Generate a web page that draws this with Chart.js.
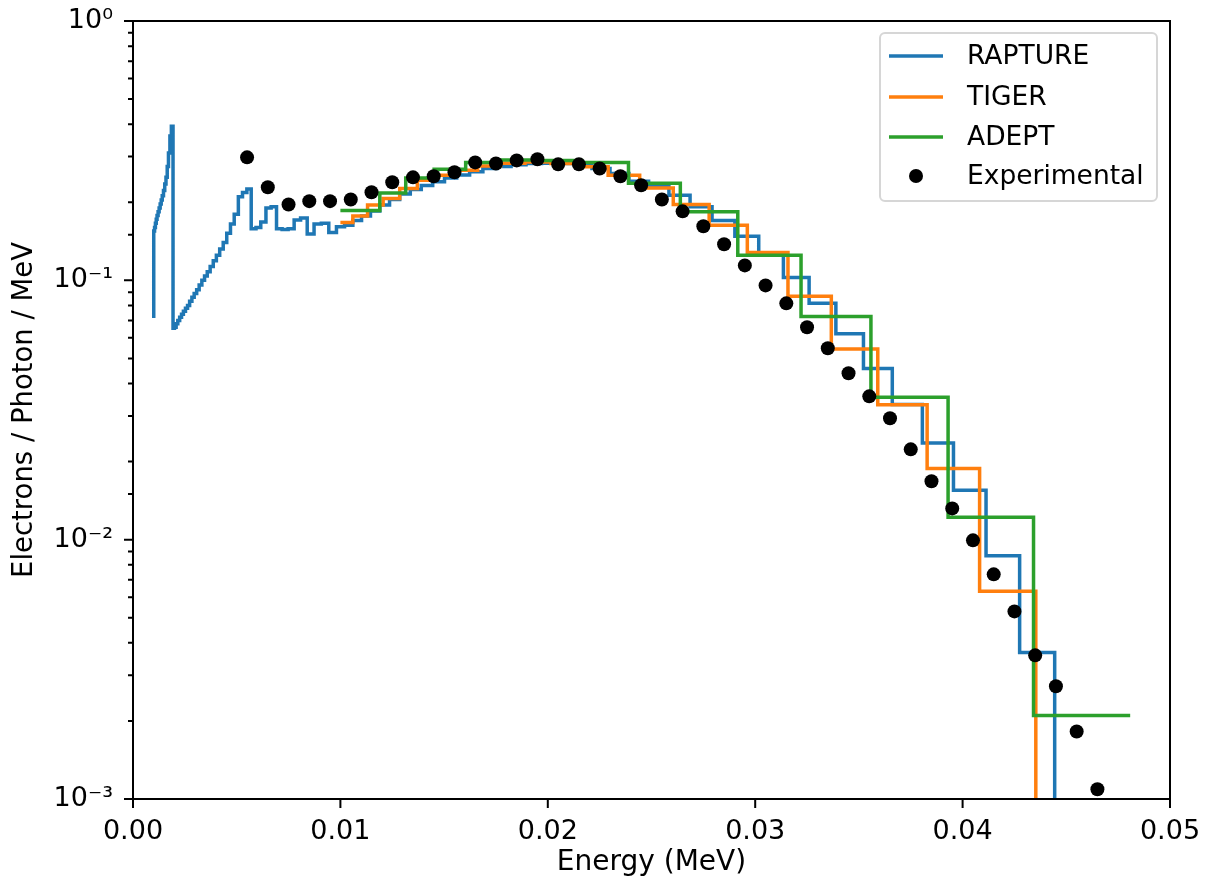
<!DOCTYPE html>
<html>
<head>
<meta charset="utf-8">
<script src="https://cdn.jsdelivr.net/npm/chart.js@4/dist/chart.umd.min.js"></script>
<style>
  body { margin: 0; background: #fff; }
  canvas { display: block; }
</style>
</head>
<body>
<canvas id="c" width="1208" height="884"></canvas>
<script>
// step histograms: edges[i] is the right edge of the bin holding values[i]
// (values[0] is the level the line starts from). 1e-9 = drop to zero.
const rapEdges = [0.001, 0.00104, 0.00108, 0.00112, 0.00116, 0.00121, 0.00126, 0.00131, 0.00136, 0.00141,
  0.00147, 0.00153, 0.00159, 0.00165, 0.00171, 0.00178, 0.00185, 0.00193,
  0.002, 0.00208, 0.00216, 0.00225, 0.00234, 0.00243, 0.00253, 0.00263, 0.00273, 0.00284, 0.00295,
  0.00307, 0.00319, 0.00332, 0.00345, 0.00358, 0.00372, 0.00387, 0.00402, 0.00418, 0.00435, 0.00452,
  0.0047, 0.00488, 0.00508, 0.00528, 0.00549, 0.0057,
  0.00593, 0.00616, 0.00641, 0.00666, 0.00692, 0.00719, 0.00748, 0.00777, 0.00808, 0.0084, 0.00873,
  0.00908, 0.00944, 0.00981, 0.0102, 0.0106,
  0.01102, 0.01145, 0.0119, 0.01237, 0.01286, 0.01337, 0.0139, 0.01445, 0.01502, 0.01561, 0.01623,
  0.01687, 0.01754, 0.01823, 0.01895, 0.0197, 0.02048, 0.02129, 0.02213, 0.023, 0.02391,
  0.02486, 0.02584, 0.02686, 0.02792, 0.02902, 0.03017, 0.03136, 0.0326, 0.03389, 0.03522, 0.03661,
  0.03806, 0.03956, 0.04113, 0.04275, 0.04444, 0.0445];
const rapValues = [0.0715,
  0.155, 0.16, 0.166, 0.172, 0.178, 0.184, 0.19, 0.197, 0.204, 0.212, 0.222, 0.235, 0.25, 0.275, 0.31, 0.36, 0.393,
  0.0654, 0.066, 0.068, 0.07, 0.072, 0.074, 0.076, 0.078, 0.08, 0.083, 0.086, 0.089, 0.092, 0.096, 0.1,
  0.104, 0.108, 0.113, 0.119, 0.125, 0.132, 0.14, 0.152, 0.165, 0.18, 0.21, 0.218, 0.225,
  0.158, 0.16, 0.168, 0.19, 0.192, 0.158, 0.157, 0.158, 0.171, 0.174, 0.151, 0.165, 0.166, 0.153, 0.161, 0.163,
  0.17, 0.177, 0.185, 0.195, 0.205, 0.215, 0.224, 0.232, 0.24, 0.248, 0.255, 0.262, 0.27, 0.275, 0.279,
  0.282, 0.283, 0.282, 0.278, 0.27, 0.258,
  0.241, 0.231, 0.213, 0.192, 0.17, 0.148, 0.126, 0.1025, 0.0815, 0.0622, 0.0457, 0.0332, 0.0236,
  0.0155, 0.00866, 0.00367, 1e-9];

const tigerEdges = [0.01, 0.0106, 0.01131, 0.01206, 0.01286, 0.01371, 0.01462, 0.01559, 0.01662, 0.01772,
  0.0189, 0.02015, 0.02149, 0.02291, 0.02443, 0.02605, 0.02778, 0.02962, 0.03158, 0.03367, 0.03591,
  0.03829, 0.04082, 0.04353, 0.0436];
const tigerValues = [0.167, 0.167, 0.177, 0.195, 0.207, 0.226, 0.243, 0.254, 0.266, 0.276, 0.283, 0.286,
  0.282, 0.274, 0.254, 0.227, 0.196, 0.163, 0.128, 0.0869, 0.0543, 0.0331, 0.0188, 0.00633, 1e-9];

const adeptEdges = [0.01, 0.0119, 0.01315, 0.01452, 0.01604, 0.01772, 0.01958, 0.02163, 0.02389, 0.02639,
  0.02916, 0.03221, 0.03558, 0.0393, 0.04342, 0.04808];
const adeptValues = [0.186, 0.186, 0.217, 0.248, 0.268, 0.285, 0.291, 0.29, 0.285, 0.2366, 0.184, 0.125,
  0.0726, 0.0354, 0.0122, 0.0021];

const expEnergy = [0.0055, 0.0065, 0.0075, 0.0085, 0.0095, 0.0105, 0.0115, 0.0125, 0.0135, 0.0145, 0.0155,
  0.0165, 0.0175, 0.0185, 0.0195, 0.0205, 0.0215, 0.0225, 0.0235, 0.0245, 0.0255, 0.0265, 0.0275, 0.0285,
  0.0295, 0.0305, 0.0315, 0.0325, 0.0335, 0.0345, 0.0355, 0.0365, 0.0375, 0.0385, 0.0395, 0.0405, 0.0415,
  0.0425, 0.0435, 0.0445, 0.0455, 0.0465];
const expValues = [0.298, 0.2285, 0.196, 0.202, 0.202, 0.205, 0.2185, 0.239, 0.2495, 0.252, 0.261, 0.285,
  0.282, 0.29, 0.293, 0.28, 0.28, 0.27, 0.252, 0.2326, 0.205, 0.1845, 0.1616, 0.1377, 0.1142, 0.0956,
  0.0815, 0.0659, 0.0547, 0.0438, 0.0357, 0.0294, 0.0223, 0.0168, 0.0132, 0.00994, 0.00735, 0.00529,
  0.00358, 0.00272, 0.00182, 0.00109];

const xTicks = [0, 0.01, 0.02, 0.03, 0.04, 0.05];
const yTickLabels = { "0": "10⁰", "-1": "10⁻¹", "-2": "10⁻²", "-3": "10⁻³" };

const FONT = "'DejaVu Sans', sans-serif";
const FS = 27;
const pts = (xs, ys) => xs.map((x, i) => ({ x, y: ys[i] }));
const isDecade = v => Math.abs(Math.log10(v) - Math.round(Math.log10(v))) < 1e-6;

const series = [
  { label: "RAPTURE", color: "#1f77b4" },
  { label: "TIGER", color: "#ff7f0e" },
  { label: "ADEPT", color: "#2ca02c" }
];

// frame, outward ticks (major + minor) and the legend box, matplotlib style
const mplBits = {
  id: "mplBits",
  afterDraw(chart) {
    const { ctx, chartArea: a, scales: { x, y } } = chart;
    ctx.save();
    ctx.strokeStyle = "#000";
    ctx.lineWidth = 2;
    ctx.strokeRect(a.left, a.top, a.right - a.left, a.bottom - a.top);

    ctx.beginPath();
    x.ticks.forEach(t => {
      const px = x.getPixelForValue(t.value);
      ctx.moveTo(px, a.bottom); ctx.lineTo(px, a.bottom + 9);
    });
    y.ticks.forEach(t => {
      const py = y.getPixelForValue(t.value);
      const len = isDecade(t.value) ? 9 : 5;
      ctx.moveTo(a.left - len, py); ctx.lineTo(a.left, py);
    });
    ctx.stroke();

    // legend
    const bx = 880, by = 33, bw = 277, bh = 168;
    ctx.beginPath();
    ctx.roundRect(bx, by, bw, bh, 5);
    ctx.fillStyle = "rgba(255,255,255,0.85)";
    ctx.fill();
    ctx.strokeStyle = "#d6d6d6";
    ctx.lineWidth = 2;
    ctx.stroke();

    const rows = [56, 97, 137, 176];
    ctx.font = "26.5px " + FONT;
    ctx.textBaseline = "middle";
    ctx.textAlign = "left";
    series.forEach((s, i) => {
      ctx.beginPath();
      ctx.moveTo(889, rows[i]); ctx.lineTo(943, rows[i]);
      ctx.strokeStyle = s.color;
      ctx.lineWidth = 3.5;
      ctx.stroke();
      ctx.fillStyle = "#000";
      ctx.fillText(s.label, 967, rows[i] + 1);
    });
    ctx.beginPath();
    ctx.arc(916, rows[3], 7, 0, Math.PI * 2);
    ctx.fillStyle = "#000";
    ctx.fill();
    ctx.fillText("Experimental", 967, rows[3] + 1);
    ctx.restore();
  }
};

const stepLine = (s, data, order) => ({
  label: s.label,
  data,
  borderColor: s.color,
  borderWidth: 3.5,
  stepped: "after",
  pointRadius: 0,
  fill: false,
  order
});

new Chart(document.getElementById("c"), {
  type: "line",
  data: {
    datasets: [
      stepLine(series[0], pts(rapEdges, rapValues), 3),
      stepLine(series[1], pts(tigerEdges, tigerValues), 2),
      stepLine(series[2], pts(adeptEdges, adeptValues), 1),
      {
        label: "Experimental",
        data: pts(expEnergy, expValues),
        showLine: false,
        pointRadius: 7,
        pointBackgroundColor: "#000",
        pointBorderWidth: 0,
        order: 0
      }
    ]
  },
  options: {
    responsive: false,
    devicePixelRatio: 1,
    animation: false,
    layout: { padding: { left: 0, right: 38, top: 21, bottom: 0 } },
    plugins: { legend: { display: false }, tooltip: { enabled: false } },
    scales: {
      x: {
        type: "linear",
        min: 0,
        max: 0.05,
        afterFit: s => { s.height = 85; s.paddingLeft = 0; s.paddingRight = 0; },
        afterBuildTicks: s => { s.ticks = xTicks.map(v => ({ value: v })); },
        grid: { drawOnChartArea: false, drawTicks: false },
        border: { display: false },
        ticks: {
          padding: 17,
          color: "#000",
          font: { family: FONT, size: FS },
          maxRotation: 0,
          callback: v => Number(v).toFixed(2)
        },
        title: {
          display: true,
          text: "Energy (MeV)",
          color: "#000",
          font: { family: FONT, size: 28 },
          padding: { top: 4, bottom: 4 }
        }
      },
      y: {
        type: "logarithmic",
        min: 0.001,
        max: 1,
        afterFit: s => { s.width = 133; s.paddingTop = 0; s.paddingBottom = 0; },
        grid: { drawOnChartArea: false, drawTicks: false },
        border: { display: false },
        ticks: {
          autoSkip: false,
          padding: 20,
          color: "#000",
          font: { family: FONT, size: FS },
          callback: v => isDecade(v) ? yTickLabels[String(Math.round(Math.log10(v)))] : ""
        },
        title: {
          display: true,
          text: "Electrons / Photon / MeV",
          color: "#000",
          font: { family: FONT, size: 27.5 },
          padding: { top: 8, bottom: 8 }
        }
      }
    }
  },
  plugins: [mplBits]
});
</script>
</body>
</html>
